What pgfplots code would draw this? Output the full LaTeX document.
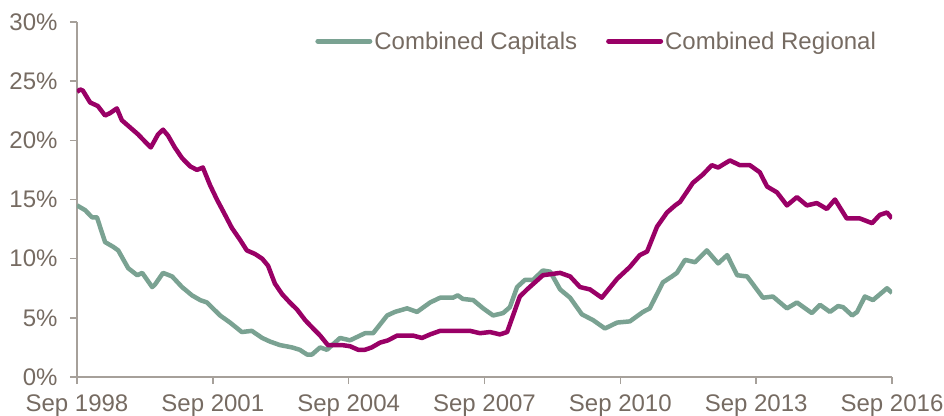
\documentclass[border=0pt]{standalone}
\usepackage{pgfplots}
\pgfplotsset{compat=1.18}
\usepackage{fontspec}
\setmainfont{Liberation Sans}

\definecolor{capgreen}{RGB}{122,162,146}
\definecolor{regmag}{RGB}{153,0,102}
\definecolor{txtgray}{RGB}{118,107,98}
\definecolor{axgray}{RGB}{166,160,154}

\begin{document}
\begin{tikzpicture}
\begin{axis}[
  at={(0,0)}, anchor=south west,
  scale only axis,
  width=815pt, height=355pt,
  xmin=0, xmax=18, ymin=0, ymax=30,
  axis x line*=bottom, axis y line*=left,
  axis line style={axgray, line width=1.5pt},
  tick style={axgray, line width=1.5pt},
  tick align=outside,
  major tick length=7pt,
  xtick={0,3,...,18},
  xticklabels={Sep 1998,Sep 2001,Sep 2004,Sep 2007,Sep 2010,Sep 2013,Sep 2016},
  ytick={0,5,...,30},
  yticklabels={0\%,5\%,10\%,15\%,20\%,25\%,30\%},
  ticklabel style={font=\fontsize{24}{28}\selectfont, text=txtgray},
  xticklabel style={yshift=-7pt},
  yticklabel style={xshift=-9pt},
  legend columns=2,
  legend style={draw=none, fill=none, at={(0.983,0.946)}, anchor=east,
    font=\fontsize{24}{28}\selectfont, text=txtgray,
    /tikz/every even column/.append style={column sep=27pt},
    inner sep=0pt},
  legend image code/.code={\draw[#1, line width=5pt, line cap=round] (0pt,0pt) -- (52pt,0pt);},
  every axis plot/.append style={line width=4.5pt, line join=round},
]
\addplot[capgreen] coordinates {
(0.00,14.5) (0.18,14.1) (0.33,13.5) (0.44,13.5) (0.62,11.4) (0.80,11.0)
(0.91,10.7) (1.13,9.2) (1.33,8.6) (1.44,8.8) (1.66,7.6) (1.72,7.8)
(1.90,8.8) (2.10,8.5) (2.32,7.6) (2.54,6.9) (2.72,6.5) (2.87,6.3)
(3.16,5.2) (3.38,4.6) (3.64,3.8) (3.86,3.9) (4.09,3.3) (4.26,3.0)
(4.48,2.7) (4.75,2.5) (4.92,2.3) (5.08,1.9) (5.19,1.9) (5.37,2.5)
(5.52,2.3) (5.81,3.3) (6.03,3.1) (6.36,3.7) (6.54,3.7) (6.85,5.2)
(7.02,5.5) (7.29,5.8) (7.51,5.5) (7.80,6.3) (8.02,6.7) (8.30,6.7)
(8.41,6.9) (8.52,6.6) (8.75,6.5) (8.97,5.8) (9.19,5.2) (9.41,5.4)
(9.56,5.9) (9.72,7.6) (9.89,8.2) (10.07,8.2) (10.29,9.0) (10.45,8.9)
(10.67,7.4) (10.89,6.7) (11.15,5.3) (11.40,4.8) (11.66,4.1) (11.93,4.6)
(12.21,4.7) (12.50,5.5) (12.65,5.8) (12.94,8.0) (13.14,8.5) (13.25,8.8)
(13.43,9.9) (13.65,9.7) (13.91,10.7) (14.16,9.6) (14.36,10.3) (14.58,8.6)
(14.80,8.5) (15.15,6.7) (15.37,6.8) (15.68,5.8) (15.90,6.3) (16.23,5.4)
(16.41,6.1) (16.63,5.5) (16.81,6.0) (16.92,5.9) (17.12,5.2) (17.23,5.5)
(17.40,6.8) (17.58,6.5) (17.89,7.5) (18.00,7.1)
};
\addlegendentry{Combined Capitals}
\addplot[regmag] coordinates {
(0.00,24.1) (0.07,24.3) (0.13,24.2) (0.29,23.2) (0.46,22.9) (0.62,22.1)
(0.73,22.3) (0.88,22.7) (0.99,21.7) (1.17,21.1) (1.35,20.5) (1.50,19.9)
(1.63,19.4) (1.79,20.5) (1.90,20.9) (2.01,20.4) (2.16,19.4) (2.32,18.5)
(2.50,17.8) (2.65,17.5) (2.78,17.7) (2.94,16.2) (3.09,15.0) (3.27,13.7)
(3.42,12.6) (3.60,11.6) (3.75,10.7) (3.93,10.4) (4.09,10.0) (4.22,9.4)
(4.37,7.9) (4.53,7.0) (4.70,6.3) (4.86,5.7) (5.04,4.8) (5.19,4.2)
(5.37,3.5) (5.54,2.7) (5.70,2.7) (5.85,2.7) (6.03,2.6) (6.21,2.3)
(6.36,2.3) (6.51,2.5) (6.69,2.9) (6.87,3.1) (7.07,3.5) (7.24,3.5)
(7.42,3.5) (7.62,3.3) (7.80,3.6) (8.02,3.9) (8.24,3.9) (8.46,3.9)
(8.68,3.9) (8.90,3.7) (9.12,3.8) (9.34,3.6) (9.50,3.8) (9.78,6.8)
(9.94,7.4) (10.29,8.6) (10.67,8.8) (10.89,8.5) (11.11,7.6) (11.33,7.4)
(11.59,6.7) (11.93,8.3) (12.21,9.3) (12.43,10.3) (12.59,10.6) (12.81,12.7)
(13.03,13.9) (13.21,14.5) (13.32,14.8) (13.60,16.4) (13.82,17.1) (14.02,17.9)
(14.16,17.7) (14.42,18.3) (14.64,17.9) (14.86,17.9) (15.08,17.3) (15.24,16.1)
(15.46,15.6) (15.68,14.5) (15.90,15.2) (16.12,14.5) (16.34,14.7) (16.56,14.2)
(16.74,15.0) (17.00,13.4) (17.29,13.4) (17.56,13.0) (17.73,13.7) (17.89,13.9)
(18.00,13.4)
};
\addlegendentry{Combined Regional}
\end{axis}
\pgfresetboundingbox
\path (-77pt,-38pt) rectangle (867pt,377pt);
\end{tikzpicture}
\end{document}
